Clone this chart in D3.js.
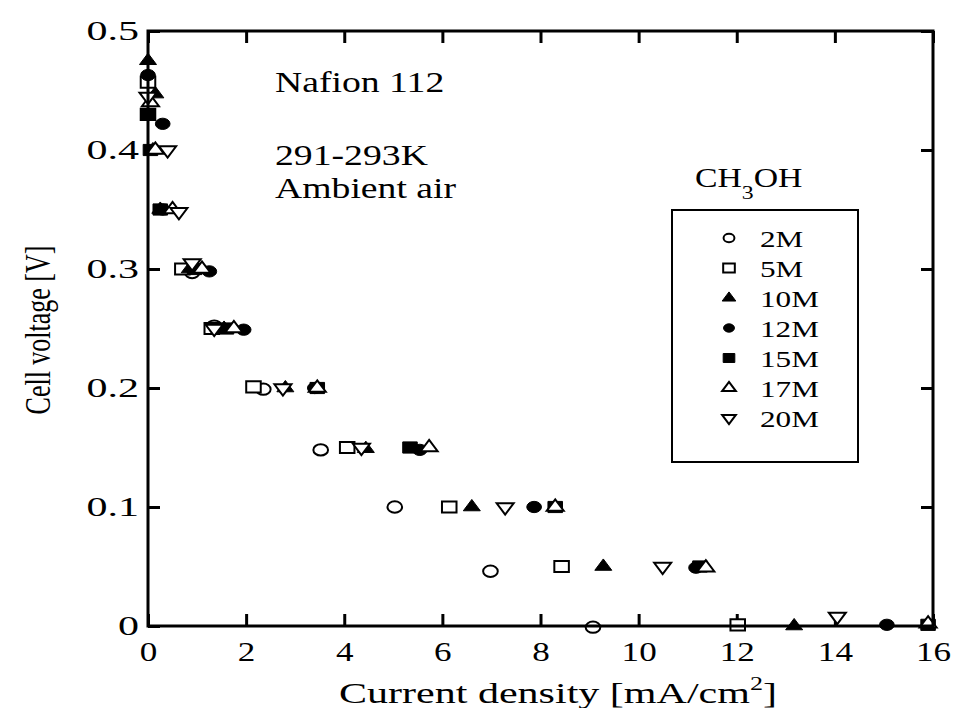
<!DOCTYPE html>
<html><head><meta charset="utf-8">
<script src="https://cdn.jsdelivr.net/npm/d3@7"></script>
<style>
body{margin:0;background:#fff;}
text{font-family:"Liberation Serif","Times New Roman",serif;fill:#000;}
</style></head>
<body>
<svg id="c" width="955" height="708"></svg>
<script>
// ---- data ----
const seriesNames = ["2M","5M","10M","12M","15M","17M","20M"];
const cd2M  = [0.9, 1.35, 2.35, 3.52, 5.03, 6.98, 9.07];
const v2M   = [0.297, 0.252, 0.199, 0.148, 0.100, 0.046, -0.001];
const cd5M  = [0.0, 0.0, 0.7, 1.3, 2.15, 4.06, 6.14, 8.43, 12.02];
const v5M   = [0.457, 0.430, 0.300, 0.250, 0.201, 0.150, 0.100, 0.050, 0.001];
const cd10M = [0.0, 0.15, 0.1, 0.25, 0.85, 1.55, 2.8, 4.44, 6.6, 9.28, 13.17];
const v10M  = [0.475, 0.447, 0.400, 0.350, 0.300, 0.250, 0.200, 0.149, 0.100, 0.050, 0.000];
const cd12M = [0.0, 0.3, 0.3, 1.25, 1.95, 3.4, 5.54, 7.87, 11.17, 15.06];
const v12M  = [0.463, 0.422, 0.350, 0.298, 0.249, 0.200, 0.148, 0.100, 0.049, 0.001];
const cd15M = [0.0, 0.05, 0.25, 0.95, 1.6, 3.45, 5.34, 8.3, 11.25, 15.9];
const v15M  = [0.430, 0.400, 0.350, 0.300, 0.250, 0.200, 0.150, 0.100, 0.050, 0.001];
const cd17M = [0.05, 0.15, 0.5, 1.1, 1.75, 3.45, 5.73, 8.3, 11.37, 15.9];
const v17M  = [0.440, 0.400, 0.350, 0.300, 0.250, 0.200, 0.150, 0.100, 0.049, 0.002];
const cd20M = [0.0, 0.4, 0.63, 0.9, 1.35, 2.75, 4.35, 7.28, 10.49, 14.05];
const v20M  = [0.445, 0.400, 0.348, 0.305, 0.250, 0.200, 0.150, 0.100, 0.050, 0.008];
const xTicks = [0,2,4,6,8,10,12,14,16];
const yTicks = [0,0.1,0.2,0.3,0.4,0.5];
const yTickLabels = ["0","0.1","0.2","0.3","0.4","0.5"];

const seriesX = [cd2M,cd5M,cd10M,cd12M,cd15M,cd17M,cd20M];
const seriesY = [v2M,v5M,v10M,v12M,v15M,v17M,v20M];
// marker styles: [shape, filled, flipped]
const markers = [
  [d3.symbolCircle,false,false],
  [d3.symbolSquare,false,false],
  [d3.symbolTriangle,true,false],
  [d3.symbolCircle,true,false],
  [d3.symbolSquare,true,false],
  [d3.symbolTriangle,false,false],
  [d3.symbolTriangle,false,true]
];

// ---- layout ----
const SX = 1.3; // horizontal stretch of glyphs in the original
const L=148, R=933, T=31, B=626;
const svg = d3.select("#c");
const x = d3.scaleLinear().domain([0,16]).range([L,R]);
const y = d3.scaleLinear().domain([0,0.5]).range([B,T]);

function sizeFor(t, legend){
  if(t===d3.symbolCircle) return legend?55:100;
  if(t===d3.symbolSquare) return legend?80:125;
  return legend?48:74;
}
function markerPath(sel, m, legend){
  const [t, filled, flip] = m;
  sel.append("path")
    .attr("d", d3.symbol().type(t).size(sizeFor(t,legend))())
    .attr("fill", filled? "#000":"#fff")
    .attr("stroke","#000")
    .attr("stroke-width", filled?1:2)
    .attr("vector-effect","non-scaling-stroke")
    .attr("transform", `scale(${SX},1)` + (flip? " rotate(180)":""));
}

// axes (inward ticks)
const gx = svg.append("g").attr("transform",`translate(0,${B})`)
  .call(d3.axisBottom(x).tickValues(xTicks).tickSize(-12).tickPadding(16).tickFormat(d3.format("d")));
const gxt = svg.append("g").attr("transform",`translate(0,${T})`)
  .call(d3.axisTop(x).tickValues(xTicks).tickSize(-12).tickFormat(""));
const gy = svg.append("g").attr("transform",`translate(${L},0)`)
  .call(d3.axisLeft(y).tickValues(yTicks).tickSize(-12).tickPadding(6).tickFormat((d,i)=>yTickLabels[i]));
const gyr = svg.append("g").attr("transform",`translate(${R},0)`)
  .call(d3.axisRight(y).tickValues(yTicks).tickSize(-12).tickFormat(""));
[gx,gxt,gy,gyr].forEach(g=>{
  g.select(".domain").remove();
  g.selectAll(".tick line").attr("stroke","#000").attr("stroke-width",3);
  g.selectAll("text").attr("font-family","Liberation Serif").attr("fill","#000");
});
gx.selectAll(".tick text").attr("font-size",27).attr("transform",`scale(${SX},1)`);
gy.selectAll(".tick text").attr("font-size",28).attr("transform",`scale(1.5,1)`);

// series
seriesNames.forEach((name,i)=>{
  const pts = seriesX[i].map((cx,j)=>[cx, seriesY[i][j]]);
  const g = svg.append("g");
  pts.forEach(p=>{
    const pg = g.append("g").attr("transform",`translate(${x(p[0])},${y(p[1])})`);
    markerPath(pg, markers[i], false);
  });
});

// frame
svg.append("rect").attr("x",L).attr("y",T).attr("width",R-L).attr("height",B-T)
  .attr("fill","none").attr("stroke","#000").attr("stroke-width",3);

function stext(txt, px, py, size, anchor){
  return svg.append("text").attr("transform",`translate(${px},${py}) scale(${SX},1)`)
    .attr("font-size",size).attr("text-anchor",anchor||"start").text(txt);
}
// axis titles
const xt = svg.append("text").attr("transform",`translate(558,703) scale(1.45,1)`)
  .attr("font-size",29).attr("text-anchor","middle");
xt.append("tspan").text("Current density [mA/cm");
xt.append("tspan").attr("font-size",18).attr("dy",-13).text("2");
xt.append("tspan").attr("dy",13).text("]");
svg.append("text").attr("transform",`translate(50,330) scale(1.35,1) rotate(-90)`)
  .attr("font-size",26).attr("text-anchor","middle").text("Cell voltage [V]");

// annotations
stext("Nafion 112", 275, 92, 29);
stext("291-293K", 275, 165, 29);
stext("Ambient air", 275, 198, 29);
const ch = svg.append("text").attr("transform",`translate(695,187) scale(1.25,1)`).attr("font-size",27);
ch.append("tspan").text("CH");
ch.append("tspan").attr("font-size",19).attr("dy",12).text("3");
ch.append("tspan").attr("dy",-12).text("OH");

// legend
svg.append("rect").attr("x",672).attr("y",210).attr("width",186).attr("height",252)
  .attr("fill","none").attr("stroke","#000").attr("stroke-width",2);
seriesNames.forEach((name,i)=>{
  const yy = 238 + i*30;
  const g = svg.append("g").attr("transform",`translate(729,${yy})`);
  markerPath(g, markers[i], true);
  stext(name, 760, yy+9, 24);
});
</script>
</body></html>
